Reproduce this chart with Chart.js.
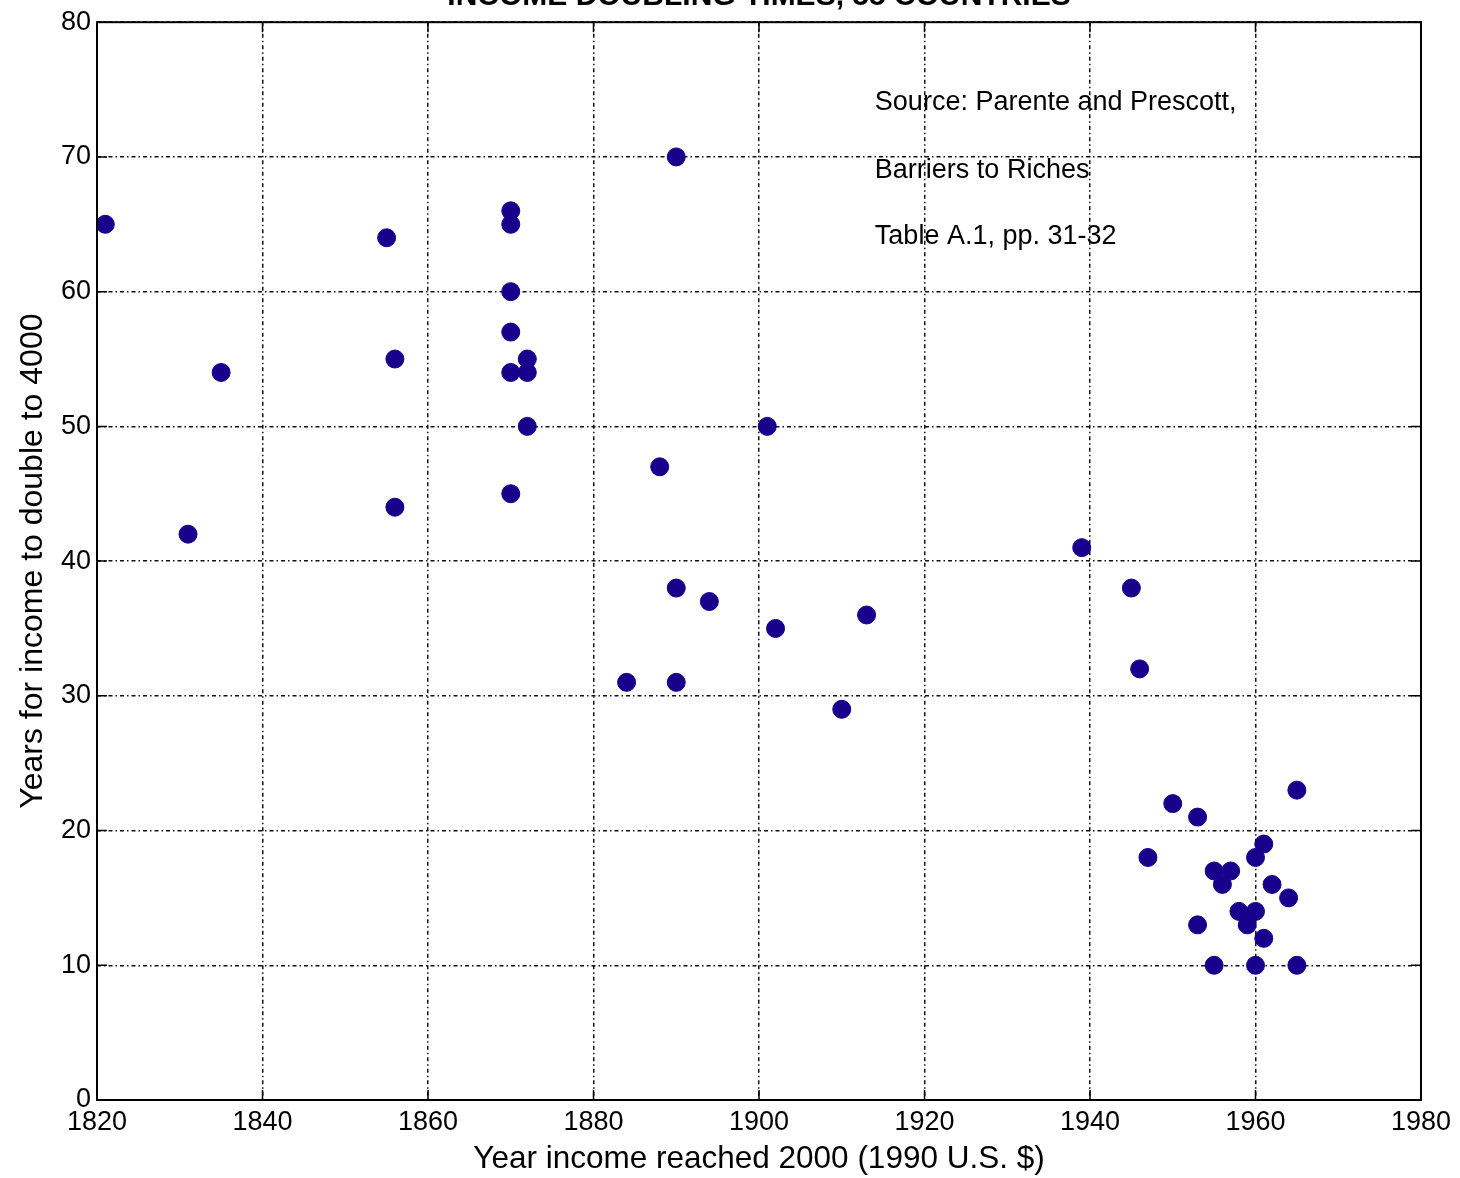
<!DOCTYPE html>
<html>
<head>
<meta charset="utf-8">
<script src="https://cdn.jsdelivr.net/npm/chart.js@4"></script>
<style>
  html, body { margin: 0; padding: 0; background: #fff; }
  #wrap { width: 1460px; height: 1178px; }
</style>
</head>
<body>
<div id="wrap"><canvas id="doubling"></canvas></div>
<script>
// Year each country reached $2000 (1990 US$) and years it took to double to $4000
var yearReached = [1821, 1831, 1835, 1855, 1856, 1856,
  1870, 1870, 1870, 1870, 1870, 1870, 1872, 1872, 1872,
  1890, 1888, 1890, 1894, 1884, 1890, 1901, 1902, 1910, 1913,
  1939, 1945, 1946, 1947, 1950, 1953, 1965, 1961, 1960, 1955, 1957,
  1956, 1962, 1964, 1958, 1960, 1959, 1953, 1961, 1955, 1960, 1965];
var yearsToDouble = [65, 42, 54, 64, 55, 44,
  66, 65, 60, 57, 54, 45, 55, 54, 50,
  70, 47, 38, 37, 31, 31, 50, 35, 29, 36,
  41, 38, 32, 18, 22, 21, 23, 19, 18, 17, 17,
  16, 16, 15, 14, 14, 13, 13, 12, 10, 10, 10];

var xTicks = [1820, 1840, 1860, 1880, 1900, 1920, 1940, 1960, 1980];
var yTicks = [0, 10, 20, 30, 40, 50, 60, 70, 80];

var titleText = "INCOME DOUBLING TIMES, 55 COUNTRIES";
var noteLines = ["Source: Parente and Prescott,", "Barriers to Riches", "Table A.1, pp. 31-32"];

var points = yearReached.map(function (x, i) { return { x: x, y: yearsToDouble[i] }; });

var fontFam = "'Liberation Sans', Arial, sans-serif";

// frame on all four sides, inward ticks, clipped title and the source note
var framePlugin = {
  id: 'frame',
  afterDraw: function (chart) {
    var ctx = chart.ctx, a = chart.chartArea;
    var xs = chart.scales.x, ys = chart.scales.y;
    ctx.save();
    ctx.strokeStyle = '#000';
    ctx.lineWidth = 2;
    ctx.strokeRect(a.left, a.top, a.right - a.left, a.bottom - a.top);
    ctx.lineWidth = 1.5;
    ctx.beginPath();
    xTicks.forEach(function (v) {
      var px = xs.getPixelForValue(v);
      ctx.moveTo(px, a.bottom); ctx.lineTo(px, a.bottom - 10);
      ctx.moveTo(px, a.top); ctx.lineTo(px, a.top + 10);
    });
    yTicks.forEach(function (v) {
      var py = ys.getPixelForValue(v);
      ctx.moveTo(a.left, py); ctx.lineTo(a.left + 10, py);
      ctx.moveTo(a.right, py); ctx.lineTo(a.right - 10, py);
    });
    ctx.stroke();

    ctx.fillStyle = '#000';
    ctx.font = 'bold 30px ' + fontFam;
    ctx.textAlign = 'center';
    ctx.textBaseline = 'alphabetic';
    ctx.fillText(titleText, (a.left + a.right) / 2, 5);

    ctx.font = '27px ' + fontFam;
    ctx.textAlign = 'left';
    ctx.textBaseline = 'middle';
    var nx = xs.getPixelForValue(1914);
    [103, 171, 237].forEach(function (y, i) {
      ctx.fillText(noteLines[i], nx, y);
    });
    ctx.restore();
  }
};

new Chart(document.getElementById('doubling'), {
  type: 'scatter',
  data: {
    datasets: [{
      data: points,
      backgroundColor: 'rgb(24,0,140)',
      borderColor: 'rgb(24,0,140)',
      pointRadius: 9,
      pointHoverRadius: 9
    }]
  },
  options: {
    responsive: true,
    maintainAspectRatio: false,
    animation: false,
    layout: { padding: { top: 22, right: 39, left: 0, bottom: 0 } },
    plugins: { legend: { display: false }, tooltip: { enabled: false } },
    scales: {
      x: {
        type: 'linear',
        min: 1820, max: 1980,
        afterFit: function (s) { s.height = 78; },
        afterBuildTicks: function (s) { s.ticks = xTicks.map(function (v) { return { value: v }; }); },
        ticks: {
          color: '#000', font: { family: fontFam, size: 27 }, padding: 6, maxRotation: 0,
          callback: function (v) { return String(v); }
        },
        grid: { color: '#111', lineWidth: 1.5, drawTicks: false },
        border: { display: false, dash: [4, 3, 1.5, 3] },
        title: {
          display: true, text: 'Year income reached 2000 (1990 U.S. $)', color: '#000',
          font: { family: fontFam, size: 31.5 }, padding: { top: 2, bottom: 0 }
        }
      },
      y: {
        type: 'linear',
        min: 0, max: 80,
        afterFit: function (s) { s.width = 97; },
        afterBuildTicks: function (s) { s.ticks = yTicks.map(function (v) { return { value: v }; }); },
        ticks: { color: '#000', font: { family: fontFam, size: 27 }, padding: 6 },
        grid: { color: '#111', lineWidth: 1.5, drawTicks: false },
        border: { display: false, dash: [4, 3, 1.5, 3] },
        title: {
          display: true, text: 'Years for income to double to 4000', color: '#000',
          font: { family: fontFam, size: 32 }, padding: { top: 14, bottom: 0 }
        }
      }
    }
  },
  plugins: [framePlugin]
});
</script>
</body>
</html>
